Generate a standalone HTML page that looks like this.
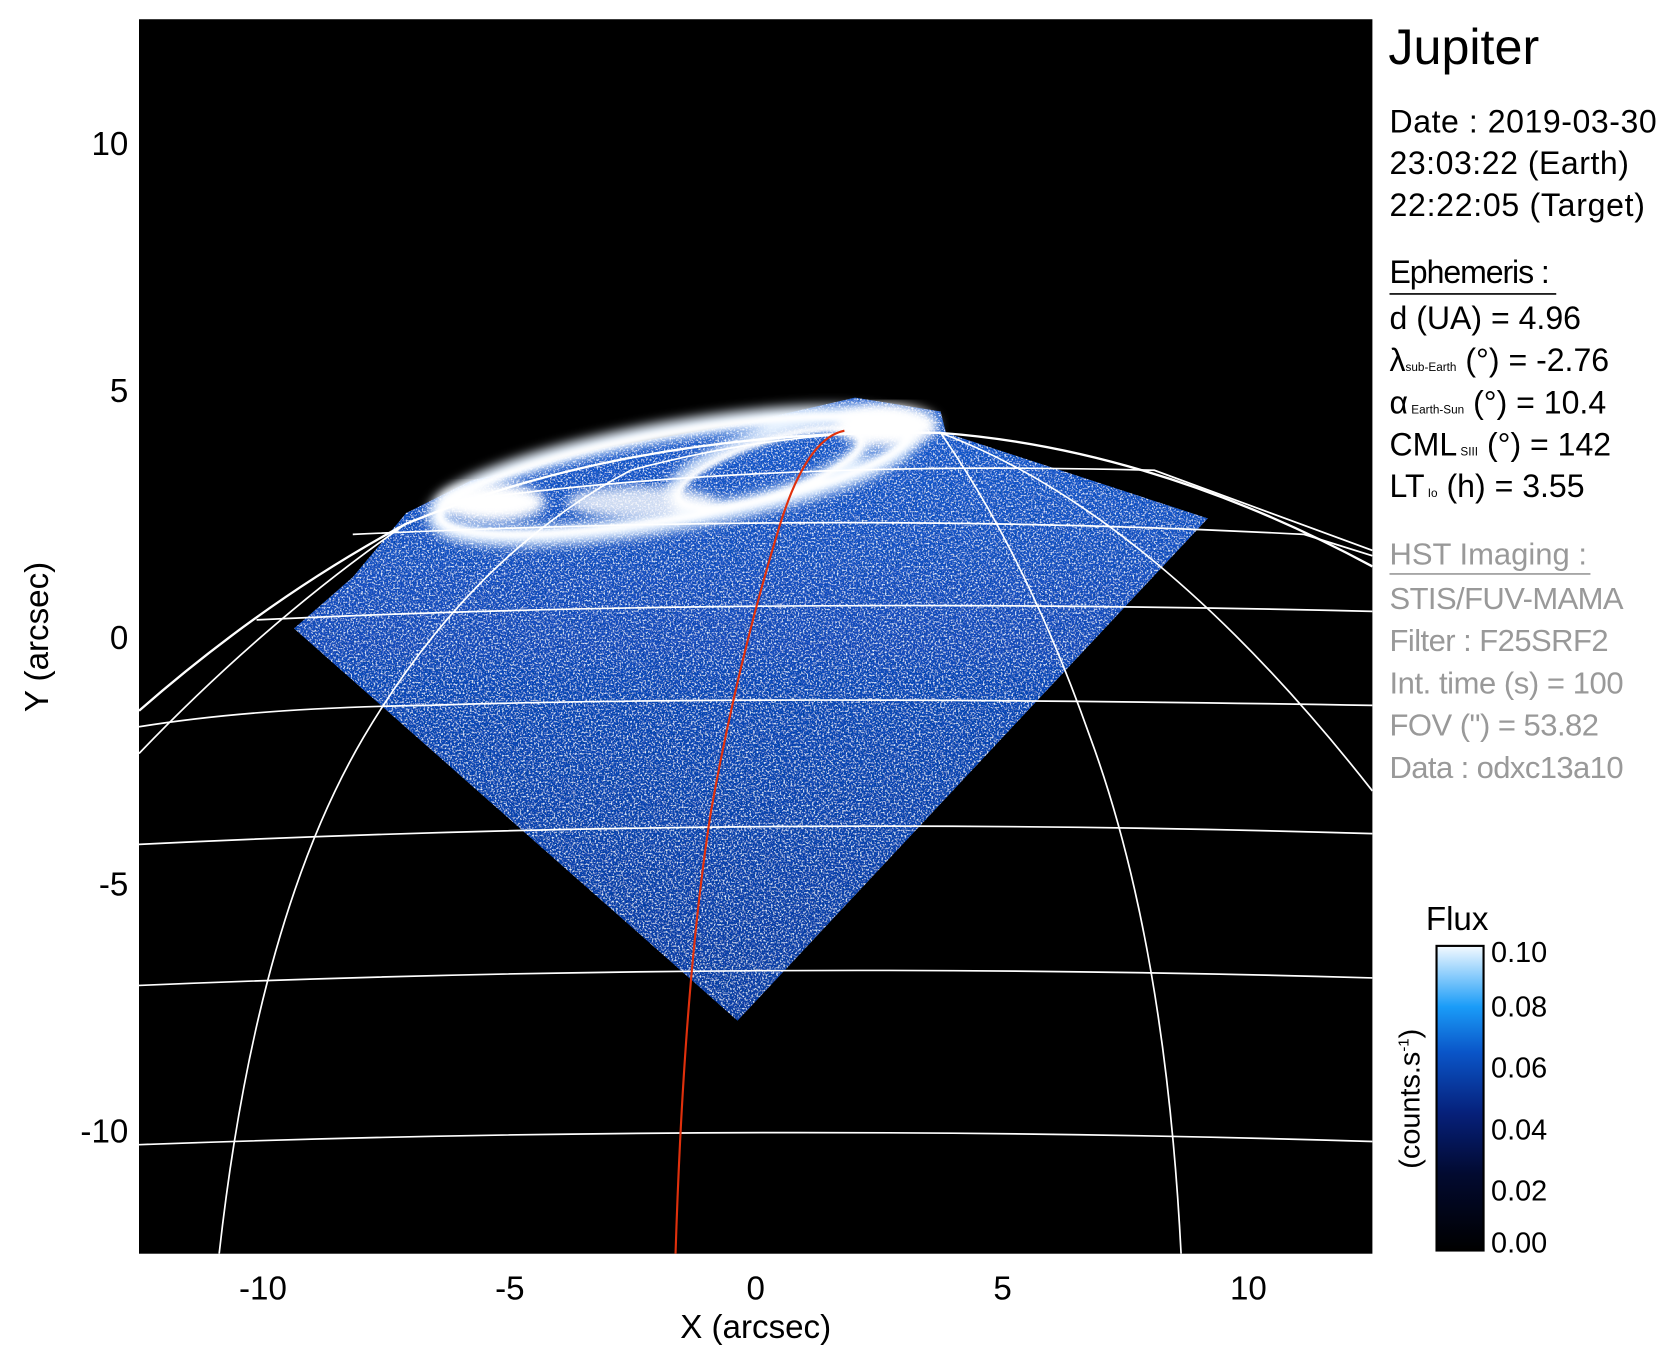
<!DOCTYPE html>
<html><head><meta charset="utf-8"><style>
html,body{margin:0;padding:0;background:#fff;}
svg{display:block;}
text{font-family:"Liberation Sans",sans-serif;}
</style></head><body>
<svg width="1676" height="1367" viewBox="0 0 1568 1279" xmlns="http://www.w3.org/2000/svg">
<defs>
<filter id="noise" x="0" y="0" width="100%" height="100%">
<feTurbulence type="fractalNoise" baseFrequency="0.6" numOctaves="2" seed="3" result="t"/>
<feColorMatrix in="t" type="matrix" values="0 0 0 0 0.75  0 0 0 0 0.88  0 0 0 0 1  0 0 0 4 -2.1" result="n"/>
<feComposite in="n" in2="SourceGraphic" operator="in" result="c"/>
<feTurbulence type="fractalNoise" baseFrequency="0.7" numOctaves="1" seed="9" result="t2"/>
<feColorMatrix in="t2" type="matrix" values="0 0 0 0 0  0 0 0 0 0.05  0 0 0 0 0.2  0 0 0 -4 1.7" result="d"/>
<feComposite in="d" in2="SourceGraphic" operator="in" result="dc"/>
<feMerge><feMergeNode in="SourceGraphic"/><feMergeNode in="dc"/><feMergeNode in="c"/></feMerge>
</filter>
<filter id="blur6"><feGaussianBlur stdDeviation="5"/></filter>
<filter id="blur3"><feGaussianBlur stdDeviation="2"/></filter>
<clipPath id="plot"><rect x="130" y="18" width="1154" height="1155"/></clipPath>
<linearGradient id="cb" x1="0" y1="1" x2="0" y2="0">
<stop offset="0" stop-color="#000000"/>
<stop offset="0.25" stop-color="#020a30"/>
<stop offset="0.45" stop-color="#06207a"/>
<stop offset="0.65" stop-color="#0a55c8"/>
<stop offset="0.8" stop-color="#1a9cf8"/>
<stop offset="1" stop-color="#f4faff"/>
</linearGradient>
<linearGradient id="disk" x1="0" y1="0" x2="0" y2="1">
<stop offset="0" stop-color="#1a5cd0"/>
<stop offset="0.5" stop-color="#1048b8"/>
<stop offset="1" stop-color="#0c3ea6"/>
</linearGradient>
</defs>

<rect x="130" y="18" width="1154" height="1155" fill="#000"/>
<g clip-path="url(#plot)">
<path d="M275,588 L330,540 L380,480 L440,450 L560,420 L700,395 L800,372 L880,385 L885,405 L1130,485 L690,955 Z" fill="url(#disk)" filter="url(#noise)"/>
<!-- aurora -->
<g filter="url(#blur6)" fill="none" stroke="#e8f3ff">
<ellipse cx="630" cy="445" rx="225" ry="42" transform="rotate(-10 630 445)" stroke-width="18"/>
<ellipse cx="720" cy="435" rx="95" ry="28" transform="rotate(-18 720 435)" stroke-width="12"/>
</g>
<ellipse cx="830" cy="398" rx="48" ry="20" fill="#fff" filter="url(#blur6)"/>
<ellipse cx="460" cy="470" rx="50" ry="18" fill="#fff" filter="url(#blur6)"/>
<ellipse cx="600" cy="470" rx="70" ry="15" fill="#fff" opacity="0.8" filter="url(#blur6)"/>
<g filter="url(#blur3)" fill="none" stroke="#fff" stroke-width="6">
<ellipse cx="630" cy="445" rx="222" ry="40" transform="rotate(-10 630 445)"/>
<ellipse cx="720" cy="438" rx="90" ry="26" transform="rotate(-18 720 438)"/>
</g>

<!-- grid -->
<g fill="none" stroke="#fff" stroke-width="1.6">
<path d="M130,1071 Q700,1050 1284,1068"/>
<path d="M130,922 Q700,898 1284,915"/>
<path d="M130,790 Q700,762 1284,780"/>
<path d="M130,680 Q240,662 400,660 Q700,650 1284,660"/>
<path d="M240,580 Q700,558 1284,572"/>
<path d="M330,500 Q800,478 1220,500 L1284,520"/>
<path d="M420,470 Q700,430 1080,440 L1284,515"/>
<path d="M130,705 Q250,580 380,490"/>
<path d="M205,1173 Q240,860 340,690 Q440,520 590,440 Q740,400 880,405"/>
<path d="M1105,1173 Q1090,880 1020,690 Q960,520 880,405"/>
<path d="M880,405 Q1080,480 1284,740"/>
</g>
<path d="M130,665 Q250,560 380,490 Q600,400 880,405 Q1080,420 1284,530" fill="none" stroke="#fff" stroke-width="2.2"/>
<path d="M790,403 Q755,410 730,490 Q690,620 665,760 Q640,920 632,1173" fill="none" stroke="#e0300c" stroke-width="2"/>
</g>

<g font-size="31" fill="#000" text-anchor="end">
<text x="120" y="145">10</text>
<text x="120" y="376">5</text>
<text x="120" y="607">0</text>
<text x="120" y="838">-5</text>
<text x="120" y="1069">-10</text>
</g>
<g font-size="31" fill="#000" text-anchor="middle">
<text x="246" y="1216">-10</text>
<text x="477" y="1216">-5</text>
<text x="707" y="1216">0</text>
<text x="938" y="1216">5</text>
<text x="1168" y="1216">10</text>
<text x="707" y="1252">X (arcsec)</text>
<text transform="translate(45,596) rotate(-90)">Y (arcsec)</text>
</g>

<text x="1299" y="60" font-size="47">Jupiter</text>
<g font-size="30" fill="#000">
<text x="1300" y="124" textLength="250">Date : 2019-03-30</text>
<text x="1300" y="163" textLength="224">23:03:22 (Earth)</text>
<text x="1300" y="202" textLength="239">22:22:05 (Target)</text>
<text x="1300" y="265" textLength="150">Ephemeris :</text>
<text x="1300" y="308">d (UA)    = 4.96</text>
<text x="1300" y="347">λ<tspan font-size="11">sub-Earth</tspan> (°) = -2.76</text>
<text x="1300" y="387">α<tspan font-size="11"> Earth-Sun</tspan> (°) = 10.4</text>
<text x="1300" y="426">CML<tspan font-size="11"> SIII</tspan> (°) = 142</text>
<text x="1300" y="465">LT<tspan font-size="11"> Io</tspan> (h) = 3.55</text>
</g>
<line x1="1300" y1="275" x2="1456" y2="275" stroke="#000" stroke-width="1.5"/>
<g font-size="29" fill="#999">
<text x="1300" y="528">HST Imaging :</text>
<text x="1300" y="570" textLength="219">STIS/FUV-MAMA</text>
<text x="1300" y="609" textLength="205">Filter : F25SRF2</text>
<text x="1300" y="649" textLength="219">Int. time (s) = 100</text>
<text x="1300" y="688" textLength="196">FOV (") = 53.82</text>
<text x="1300" y="728" textLength="219">Data : odxc13a10</text>
</g>
<line x1="1300" y1="537" x2="1488" y2="537" stroke="#999" stroke-width="1.5"/>

<rect x="1344" y="885" width="44" height="285" fill="url(#cb)" stroke="#000" stroke-width="2"/>
<text x="1334" y="870" font-size="31">Flux</text>
<g font-size="27" text-anchor="start">
<text x="1395" y="900">0.10</text>
<text x="1395" y="951">0.08</text>
<text x="1395" y="1008">0.06</text>
<text x="1395" y="1066">0.04</text>
<text x="1395" y="1123">0.02</text>
<text x="1395" y="1172">0.00</text>
</g>
<text transform="translate(1328,1028) rotate(-90)" font-size="27" text-anchor="middle">(counts.s<tspan font-size="14" dy="-10">-1</tspan><tspan dy="10">)</tspan></text>
</svg>
</body></html>
